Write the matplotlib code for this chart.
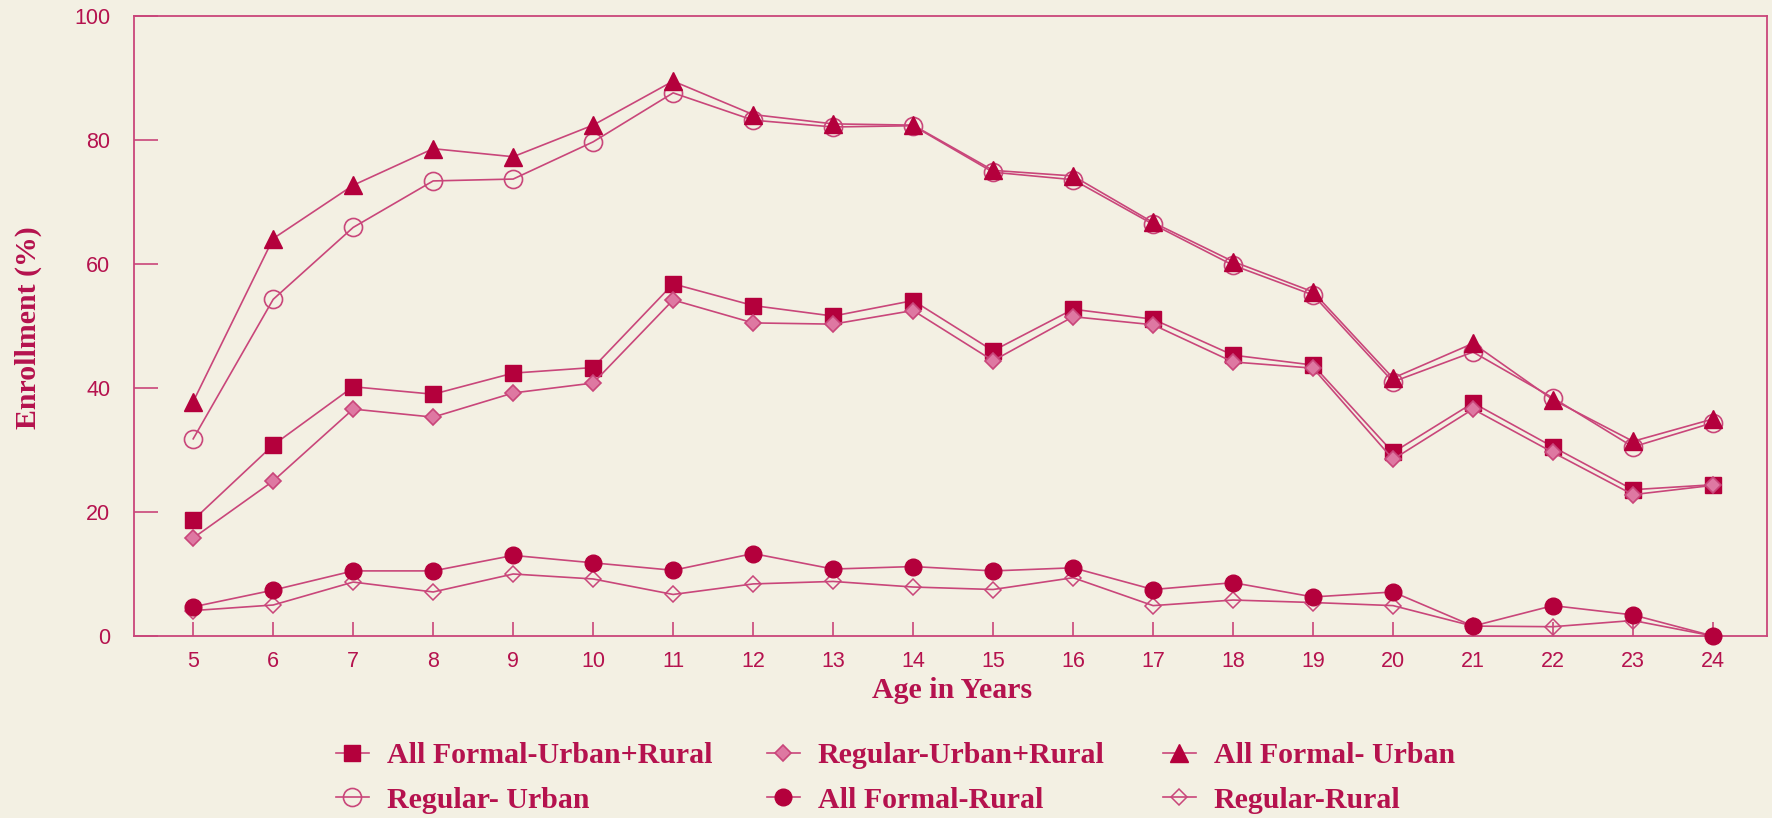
import matplotlib
matplotlib.use("Agg")
import matplotlib.pyplot as plt

# ---------------- data ----------------
ages = [5, 6, 7, 8, 9, 10, 11, 12, 13, 14, 15, 16, 17, 18, 19, 20, 21, 22, 23, 24]

all_formal_urban = [37.8, 64.1, 72.7, 78.6, 77.3, 82.4, 89.5, 84.1, 82.6, 82.4,
                    75.1, 74.2, 66.7, 60.4, 55.5, 41.6, 47.2, 38.1, 31.4, 35.0]
regular_urban = [31.8, 54.3, 65.9, 73.4, 73.7, 79.7, 87.6, 83.2, 82.1, 82.3,
                 74.8, 73.6, 66.4, 59.8, 55.0, 41.0, 45.8, 38.4, 30.5, 34.4]
all_formal_ur = [18.7, 30.8, 40.2, 39.0, 42.4, 43.3, 56.8, 53.3, 51.6, 54.1,
                 46.0, 52.7, 51.1, 45.3, 43.7, 29.6, 37.6, 30.5, 23.6, 24.4]
regular_ur = [15.8, 25.0, 36.6, 35.3, 39.2, 40.8, 54.2, 50.5, 50.3, 52.5,
              44.4, 51.5, 50.2, 44.2, 43.2, 28.5, 36.6, 29.6, 22.8, 24.3]
all_formal_rural = [4.7, 7.4, 10.5, 10.5, 13.0, 11.8, 10.6, 13.3, 10.8, 11.2,
                    10.5, 11.0, 7.5, 8.6, 6.3, 7.1, 1.6, 4.9, 3.4, 0.0]
regular_rural = [4.1, 5.0, 8.7, 7.1, 10.0, 9.2, 6.7, 8.4, 8.8, 7.9,
                 7.5, 9.4, 4.9, 5.8, 5.4, 4.9, 1.6, 1.5, 2.5, 0.0]

yticks = [0, 20, 40, 60, 80, 100]
labels = ["All Formal-Urban+Rural", "Regular-Urban+Rural", "All Formal- Urban",
          "Regular- Urban", "All Formal-Rural", "Regular-Rural"]

# ---------------- style ----------------
BG = "#F3F0E3"
LINE = "#C9467A"
DARK = "#B4003C"
PINK = "#DE78A2"
TEXT = "#B5124E"

fig = plt.figure(figsize=(17.72, 8.18), dpi=100, facecolor=BG)
ax = fig.add_axes([134 / 1772, 1 - 636 / 818, (1767 - 134) / 1772, (636 - 16) / 818])
ax.set_facecolor(BG)

lw = 1.2
h_sq, = ax.plot(ages, all_formal_ur, color=LINE, lw=lw, marker="s", ms=12,
                mfc=DARK, mec=DARK, clip_on=False, zorder=4)
h_dm, = ax.plot(ages, regular_ur, color=LINE, lw=lw, marker="D", ms=8.5,
                mfc=PINK, mec=LINE, mew=1.2, clip_on=False, zorder=5)
h_tr, = ax.plot(ages, all_formal_urban, color=LINE, lw=lw, marker="^", ms=13,
                mfc=DARK, mec=DARK, clip_on=False, zorder=4)
h_oc, = ax.plot(ages, regular_urban, color=LINE, lw=lw, marker="o", ms=13,
                mfc="none", mec=LINE, mew=1.2, clip_on=False, zorder=3)
h_fc, = ax.plot(ages, all_formal_rural, color=LINE, lw=lw, marker="o", ms=12,
                mfc=DARK, mec=DARK, clip_on=False, zorder=4)
h_od, = ax.plot(ages, regular_rural, color=LINE, lw=lw, marker="D", ms=8.5,
                mfc="none", mec=LINE, mew=1.1, clip_on=False, zorder=3)

ax.set_xlim(4.26, 24.675)
ax.set_ylim(0, 100)
ax.set_xticks(ages)
ax.set_yticks(yticks)
for s in ax.spines.values():
    s.set_color(LINE)
    s.set_linewidth(1.3)
ax.tick_params(axis="y", direction="in", length=17, width=1.2, color=LINE,
               pad=17, labelsize=15.5, labelcolor=TEXT)
ax.tick_params(axis="x", direction="in", length=10, width=1.2, color=LINE,
               pad=11, labelsize=15.5, labelcolor=TEXT)
for t in ax.get_xticklabels() + ax.get_yticklabels():
    t.set_fontfamily("Liberation Sans")

serif = dict(family="Liberation Serif", weight="bold", color=TEXT, size=21.5)
fig.text(952 / 1772, 1 - 690 / 818, "Age in Years", ha="center", va="center", **serif)
fig.text(28 / 1772, 1 - 328 / 818, "Enrollment (%)", rotation=90,
         ha="center", va="center", **serif)

# legend: three columns, two rows each
cols = [
    ([h_sq, h_oc], [labels[0], labels[3]], 336),
    ([h_dm, h_fc], [labels[1], labels[4]], 767),
    ([h_tr, h_od], [labels[2], labels[5]], 1163),
]
for handles, labs, x0 in cols:
    leg = fig.legend(handles, labs, loc="upper left",
                     bbox_to_anchor=(x0 / 1772, 1 - 742 / 818),
                     frameon=False, numpoints=1, handlelength=1.1,
                     handletextpad=0.6, labelspacing=0.6, borderpad=0,
                     borderaxespad=0,
                     prop=dict(family="Liberation Serif", weight="bold", size=21.5))
    for t in leg.get_texts():
        t.set_color(TEXT)

fig.savefig("out.png", dpi=100, facecolor=BG)
